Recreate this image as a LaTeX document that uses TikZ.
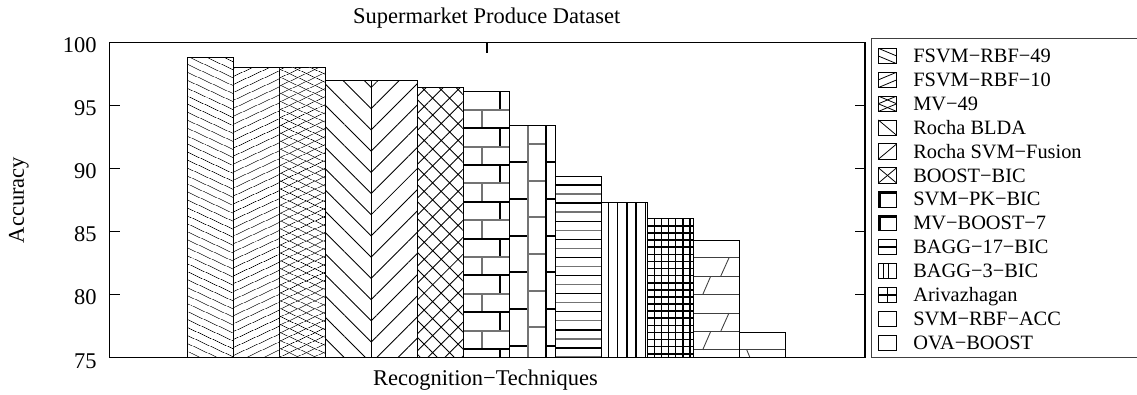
\documentclass[tikz,border=0pt]{standalone}
\usepackage{fontspec}
\setmainfont{Liberation Serif}
\usetikzlibrary{patterns.meta}

\tikzset{
  plotframe/.style={line width=0.7pt},
  tick/.style={line width=0.6pt},
  bar/.style={line width=0.5pt},
  axislabel/.style={inner sep=0pt, font=\fontsize{12.8}{15}\selectfont},
  keylabel/.style={inner sep=0pt, anchor=base west, font=\fontsize{11.6}{14}\selectfont},
  keyframe/.style={line width=0.7pt, black!75},
  keybox/.style={line width=0.5pt},
  keymark/.style={line width=0.45pt},
  thinrule/.style={line width=0.5pt, black!75},
  brick/.style={line width=1.1pt},
  % hatched fills
  finedown/.style={pattern={Lines[angle=-25,distance=0.14cm,line width=0.45pt]}},
  fineup/.style={pattern={Lines[angle=25,distance=0.14cm,line width=0.45pt]}},
  finecross/.style={fineup, postaction={finedown}},
  widedown/.style={pattern={Lines[angle=-45,distance=0.3cm,line width=0.5pt]}},
  wideup/.style={pattern={Lines[angle=45,distance=0.3cm,line width=0.5pt]}},
  widecross/.style={pattern={Hatch[angle=45,distance=0.24cm,line width=0.5pt]}},
  % fills drawn line by line (use \xl and \yt of the bar)
  hbricks/.style={path picture={
    \foreach \row in {0,...,14}{
      \pgfmathsetmacro\ya{\yt+18.4*\row}
      \pgfmathsetmacro\xj{\xl+ifthenelse(isodd(\row),18.35,36.7)}
      \pgfmathtruncatemacro\tone{ifthenelse(isodd(\row),55,100)}
      \draw[brick,black!\tone] (\xl,\ya) -- ++(46,0) (\xj,\ya) -- ++(0,18.4);
    }}},
  vbricks/.style={path picture={
    \foreach \col in {0,1,2}{
      \pgfmathsetmacro\xa{\xl+18.35*\col}
      \pgfmathtruncatemacro\tone{ifthenelse(isodd(\col),55,100)}
      \draw[brick,black!\tone] (\xa,\yt) -- (\xa,357.7);
      \foreach \n in {0,...,7}{
        \pgfmathsetmacro\yb{\yt+36.7*\n+ifthenelse(isodd(\col),18.35,0)}
        \draw[brick,black!\tone] (\xa,\yb) -- ++(18.35,0);
      }
    }}},
  hlines/.style={path picture={
    \foreach \n in {1,...,20}{
      \pgfmathtruncatemacro\tone{ifthenelse(isodd(\n),100,55)}
      \draw[line width=0.8pt,black!\tone] (\xl,{\yt+9.05*\n}) -- ++(46,0);
    }}},
  vlines/.style={path picture={
    \foreach \n in {0,...,4}
      \draw[line width=0.8pt] ({\xl+7+9.25*\n},\yt) -- ++(0,200);}},
  gridfill/.style={path picture={
    \foreach \n in {1,...,25}{
      \draw[line width=0.9pt] ({\xl+7.1*\n},\yt) -- ++(0,200);
      \draw[line width=0.9pt] (\xl,{\yt+7.1*\n}) -- ++(46,0);
    }}},
  slashrows/.style={path picture={
    \foreach \n in {0,...,5}
      \draw[thinrule] (\xl,{\yt+17.5+18.4*\n}) -- ++(46,0);
    \foreach \n in {0,3}{
      \draw[thinrule] ({\xl+27.4},{\yt+17.5+18.4*(\n+1)}) -- ({\xl+35.7},{\yt+17.5+18.4*\n});
      \draw[thinrule] ({\xl+9.4},{\yt+17.5+18.4*(\n+2)}) -- ({\xl+17.4},{\yt+17.5+18.4*(\n+1)});
    }}},
  backslashrow/.style={path picture={
    \draw[thinrule] (\xl,{\yt+17.2}) -- ++(46,0);
    \draw[thinrule] ({\xl+7.4},{\yt+17.2}) -- ({\xl+10.7},357.7);}},
  % marks in the key boxes (use \yc of the row)
  keyfinedown/.style={path picture={\draw[keymark] (878.3,\yc-7.7) -- (896.7,\yc) (878.3,\yc) -- (896.7,\yc+7.7);}},
  keyfineup/.style={path picture={\draw[keymark] (878.3,\yc) -- (896.7,\yc-7.7) (878.3,\yc+7.7) -- (896.7,\yc);}},
  keyfinecross/.style={keyfinedown, postaction={keyfineup}},
  keywidedown/.style={path picture={\draw[keymark] (878.3,\yc-7.7) -- (896.7,\yc+7.7);}},
  keywideup/.style={path picture={\draw[keymark] (878.3,\yc+7.7) -- (896.7,\yc-7.7);}},
  keywidecross/.style={keywidedown, postaction={keywideup}},
  keybrick/.style={path picture={\draw[line width=1.2pt] (879.6,\yc+7.7) -- (879.6,\yc-6.4) -- (896.7,\yc-6.4);}},
  keyhline/.style={path picture={\draw[line width=0.9pt] (878.3,\yc) -- (896.7,\yc);}},
  keyvline/.style={path picture={\draw[line width=0.8pt] (883.3,\yc-7.7) -- ++(0,15.4) (888.3,\yc-7.7) -- ++(0,15.4);}},
  keycross/.style={path picture={\draw[line width=0.9pt] (887.5,\yc-7.7) -- ++(0,15.4) (878.3,\yc) -- (896.7,\yc);}},
  keyplain/.style={}
}

\begin{document}
\begin{tikzpicture}[x=0.02cm, y=-0.02cm]
\useasboundingbox (0,0) rectangle (1137,395);

% bars, accuracy 75 at y=357.7, 12.62 per unit
\foreach \v/\barfill [count=\i from 0] in {98.8/finedown, 98.0/fineup, 98.0/finecross,
    97.0/widedown, 97.0/wideup, 96.4/widecross, 96.1/hbricks, 93.4/vbricks,
    89.4/hlines, 87.3/vlines, 86.0/gridfill, 84.3/slashrows, 77.0/backslashrow}{
  \pgfmathsetmacro\xl{187.3+46*\i}
  \pgfmathsetmacro\yt{357.7-(\v-75)*12.62}
  \draw[bar,\barfill] (\xl,357.7) rectangle ({\xl+46},\yt);
}

% axes
\foreach \v in {95,90,85,80}{
  \pgfmathsetmacro\yv{357.7-(\v-75)*12.62}
  \draw[tick] (109.5,\yv) -- ++(10.5,0);
  \draw[tick] (865,\yv) -- ++(-10.5,0);
}
\draw[tick] (487,42.5) -- ++(0,11);
\draw[plotframe] (109.5,42.5) rectangle (865,357.7);
\foreach \v in {75,80,...,100}{
  \pgfmathsetmacro\yv{357.7-(\v-75)*12.62}
  \node[axislabel, anchor=base east] (y\v) at (97,\yv+10.3) {\v};
}
\node[axislabel, anchor=base] (title) at (486.7,23.3) {Supermarket Produce Dataset};
\node[axislabel, anchor=base] (xlabel) at (485.5,385.7) {Recognition−Techniques};
\node[axislabel, anchor=base, rotate=90] (ylabel) at (24,200) {Accuracy};

% key
\draw[keyframe] (1140,38.3) -- (871.3,38.3) -- (871.3,357.3) -- (1140,357.3);
\foreach \name/\keyfill [count=\i from 0] in {FSVM−RBF−49/keyfinedown,
    FSVM−RBF−10/keyfineup, MV−49/keyfinecross, Rocha BLDA/keywidedown,
    Rocha SVM−Fusion/keywideup, BOOST−BIC/keywidecross, SVM−PK−BIC/keybrick,
    MV−BOOST−7/keybrick, BAGG−17−BIC/keyhline, BAGG−3−BIC/keyvline,
    Arivazhagan/keycross, SVM−RBF−ACC/keyplain, OVA−BOOST/keyplain}{
  \pgfmathsetmacro\yc{56+23.89*\i}
  \draw[keybox,\keyfill] (878.3,\yc-7.7) rectangle (896.7,\yc+7.7);
  \node[keylabel] (key\i) at (913,\yc+6.6) {\name};
}
\end{tikzpicture}
\end{document}
